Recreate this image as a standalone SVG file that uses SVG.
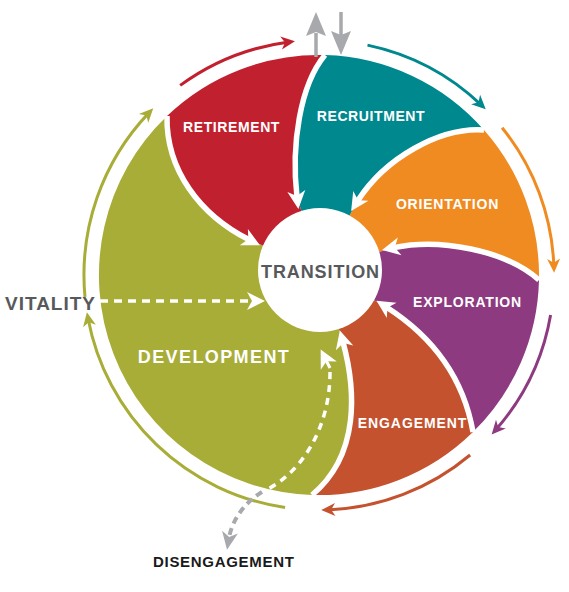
<svg xmlns="http://www.w3.org/2000/svg" width="569" height="592" viewBox="0 0 569 592">
<style>
.lbl{font-family:"Liberation Sans",Arial,sans-serif;font-weight:bold;fill:#ffffff;text-anchor:middle}
.bd{fill:none;stroke:#ffffff;stroke-width:5.5;marker-end:url(#mw)}
.oa{fill:none;stroke-width:3}
</style>
<defs>
<marker id="mw" markerUnits="userSpaceOnUse" orient="auto" markerWidth="40" markerHeight="40" refX="0" refY="0" overflow="visible"><path d="M12,0 L-6,-9 L-1,0 L-6,9 Z" fill="#ffffff"/></marker>
<marker id="mg" markerUnits="userSpaceOnUse" orient="auto" markerWidth="40" markerHeight="40" refX="0" refY="0" overflow="visible"><path d="M12,0 L-6,-8 L-1,0 L-6,8 Z" fill="#a7a9ac"/></marker>
<marker id="mRed" markerUnits="userSpaceOnUse" orient="auto" markerWidth="30" markerHeight="30" overflow="visible"><path d="M6,0 L-8,-6.5 L-4,0 L-8,6.5 Z" fill="#c1202f"/></marker>
<marker id="mTeal" markerUnits="userSpaceOnUse" orient="auto" markerWidth="30" markerHeight="30" overflow="visible"><path d="M6,0 L-8,-6.5 L-4,0 L-8,6.5 Z" fill="#00888f"/></marker>
<marker id="mOra" markerUnits="userSpaceOnUse" orient="auto" markerWidth="30" markerHeight="30" overflow="visible"><path d="M6,0 L-8,-6.5 L-4,0 L-8,6.5 Z" fill="#f08b22"/></marker>
<marker id="mPur" markerUnits="userSpaceOnUse" orient="auto" markerWidth="30" markerHeight="30" overflow="visible"><path d="M6,0 L-8,-6.5 L-4,0 L-8,6.5 Z" fill="#8e3a80"/></marker>
<marker id="mEng" markerUnits="userSpaceOnUse" orient="auto" markerWidth="30" markerHeight="30" overflow="visible"><path d="M6,0 L-8,-6.5 L-4,0 L-8,6.5 Z" fill="#c4522e"/></marker>
<marker id="mOli" markerUnits="userSpaceOnUse" orient="auto" markerWidth="30" markerHeight="30" overflow="visible"><path d="M6,0 L-8,-6.5 L-4,0 L-8,6.5 Z" fill="#a8ad38"/></marker>
</defs>
<rect width="569" height="592" fill="#ffffff"/>

<g id="recruitment">
<path d="M325,55 A220,220 0 0 1 484,130 C440,127 385,158 357.6,201 L320,270 L297,197 C291,145 300,85 325,55 Z" fill="#00888f"/>
<text class="lbl" x="371" y="121" font-size="14" letter-spacing="0.6">RECRUITMENT</text>
</g>
<g id="orientation">
<path d="M484,130 A220,220 0 0 1 539,280 C505,250 440,238 393.8,247.6 L320,270 L357.6,201 C385,158 440,127 484,130 Z" fill="#f08b22"/>
<text class="lbl" x="447.5" y="209" font-size="14" letter-spacing="0.8">ORIENTATION</text>
</g>
<g id="exploration">
<path d="M539,280 A220,220 0 0 1 473,432 C463,375 430,335 386.6,307.2 L320,270 L393.8,247.6 C440,238 505,250 539,280 Z" fill="#8e3a80"/>
<text class="lbl" x="467.5" y="307" font-size="14" letter-spacing="0.8">EXPLORATION</text>
</g>
<g id="engagement">
<path d="M473,432 A220,220 0 0 1 312,495 C360,455 356,390 343,342 L320,270 L386.6,307.2 C430,335 463,375 473,432 Z" fill="#c4522e"/>
<text class="lbl" x="412.5" y="428" font-size="14" letter-spacing="0.9">ENGAGEMENT</text>
</g>
<g id="development">
<path d="M312,495 A220,220 0 0 1 167,116 C166,170 200,215 249.2,239.8 L320,270 L343,342 C356,390 360,455 312,495 Z" fill="#a8ad38"/>
<text class="lbl" x="214" y="363" font-size="18" letter-spacing="1.4">DEVELOPMENT</text>
</g>
<g id="retirement">
<path d="M167,116 A220,220 0 0 1 325,55 C300,85 291,145 297,197 L320,270 L249.2,239.8 C200,215 166,170 167,116 Z" fill="#c1202f"/>
<text class="lbl" x="231.5" y="132" font-size="14" letter-spacing="0.6">RETIREMENT</text>
</g>

<g id="connectors">
<path class="bd" d="M325,55 C300,85 291,145 297,197"/>
<path class="bd" d="M484,130 C440,127 385,158 357.6,201"/>
<path class="bd" d="M539,280 C505,250 440,238 393.8,247.6"/>
<path class="bd" d="M473,432 C463,375 430,335 386.6,307.2"/>
<path class="bd" d="M312,495 C360,455 356,390 343,342"/>
<path class="bd" d="M167,116 C166,170 200,215 249.2,239.8"/>

<path class="oa" stroke="#c1202f" marker-end="url(#mRed)" d="M180.2,85.4 A235,235 0 0 1 289,42"/>
<path class="oa" stroke="#00888f" marker-end="url(#mTeal)" d="M367.5,45.1 A235,235 0 0 1 481.4,105.1"/>
<path class="oa" stroke="#f08b22" marker-end="url(#mOra)" d="M502.1,127.7 A235,235 0 0 1 553.9,266.8"/>
<path class="oa" stroke="#8e3a80" marker-end="url(#mPur)" d="M550.6,315 A235,235 0 0 1 495.6,430.1"/>
<path class="oa" stroke="#c4522e" marker-end="url(#mEng)" d="M470.1,455 A235,235 0 0 1 327.2,509.9"/>
<path class="oa" stroke="#a8ad38" marker-end="url(#mOli)" d="M285.1,507.5 A235,235 0 0 1 88,318.2"/>
<path class="oa" stroke="#a8ad38" marker-end="url(#mOli)" d="M85,297 A235,235 0 0 1 149.1,112.6"/>

<path d="M100,301 L253,301" fill="none" stroke="#ffffff" stroke-width="3.5" stroke-dasharray="8 6" marker-end="url(#mw)"/>
<path d="M330,372 C330,430 300,475 262,492" fill="none" stroke="#ffffff" stroke-width="3.5" stroke-dasharray="7 6"/>
<path d="M330,368 L326.1,360.3" fill="none" stroke="#ffffff" stroke-width="3" marker-end="url(#mw)"/>
<path d="M262,492 C245,502 232,520 229,538" fill="none" stroke="#a7a9ac" stroke-width="4" stroke-dasharray="7 5" marker-end="url(#mg)"/>

<path d="M316,57 L316,33" stroke="#a7a9ac" stroke-width="3.5" fill="none"/>
<path d="M316,12 L326,36 L316,32 L306,36 Z" fill="#a7a9ac"/>
<path d="M341,12 L341,36" stroke="#a7a9ac" stroke-width="3.5" fill="none"/>
<path d="M341,55 L351,31 L341,35 L331,31 Z" fill="#a7a9ac"/>
</g>

<g id="transition">
<circle cx="320" cy="270" r="62" fill="#ffffff"/>
<text x="320.5" y="278" font-family="Liberation Sans, Arial, sans-serif" font-weight="bold" font-size="18" letter-spacing="0.9" fill="#58595b" text-anchor="middle">TRANSITION</text>
</g>
<g id="vitality">
<text x="5" y="310" font-family="Liberation Sans, Arial, sans-serif" font-weight="bold" font-size="19" letter-spacing="1" fill="#58595b">VITALITY</text>
</g>
<g id="disengagement">
<text x="153" y="567" font-family="Liberation Sans, Arial, sans-serif" font-weight="bold" font-size="15" letter-spacing="0.7" fill="#1a1a1a">DISENGAGEMENT</text>
</g>
</svg>
